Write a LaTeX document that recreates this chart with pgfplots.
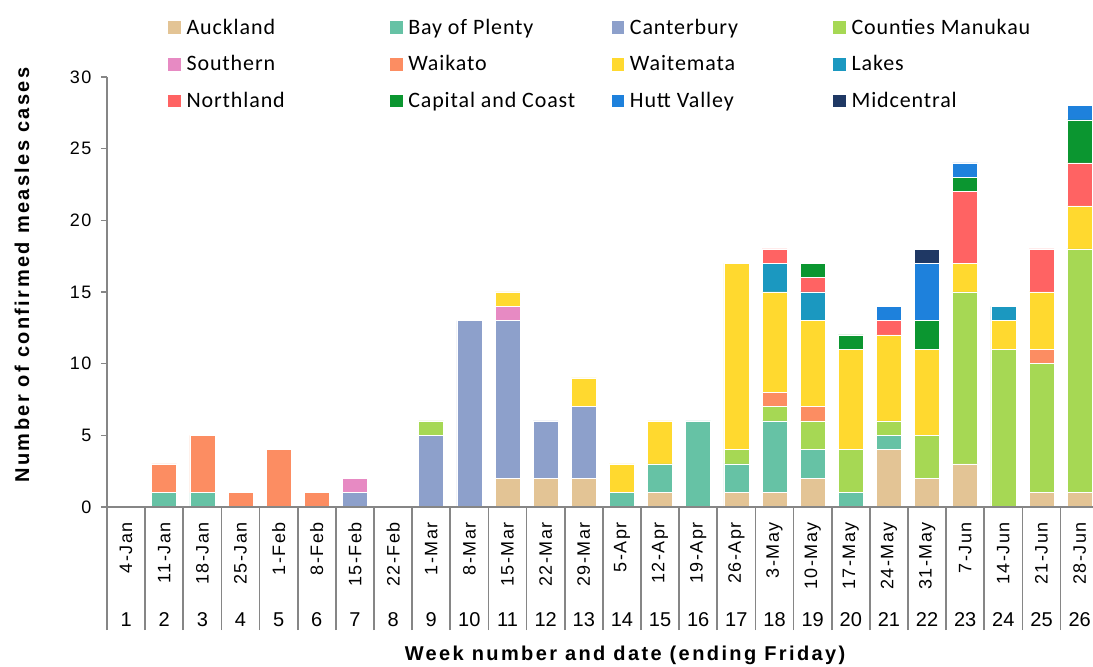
\documentclass[border=0pt]{standalone}
\usepackage{pgfplots}
\pgfplotsset{compat=1.18}
\usepackage{pgfplotstable}
\usepackage{fontspec}
\setmainfont{Liberation Sans}
\newfontfamily\legfont{Carlito}[LetterSpace=4]
\newfontfamily\tickfont{Liberation Sans}[LetterSpace=8]
\newfontfamily\labfont{Liberation Sans}[LetterSpace=12]

\definecolor{cAuk}{RGB}{227,196,149}
\definecolor{cBoP}{RGB}{102,194,165}
\definecolor{cCan}{RGB}{141,160,203}
\definecolor{cCM}{RGB}{166,216,84}
\definecolor{cSou}{RGB}{231,138,195}
\definecolor{cWai}{RGB}{252,141,98}
\definecolor{cWtm}{RGB}{255,217,47}
\definecolor{cLak}{RGB}{27,152,192}
\definecolor{cNth}{RGB}{255,99,99}
\definecolor{cCC}{RGB}{11,150,48}
\definecolor{cHV}{RGB}{30,129,220}
\definecolor{cMC}{RGB}{31,56,100}
\definecolor{axisgray}{RGB}{134,134,134}

\pgfplotstableread{
wk Auk BoP Cant CM Sou Wai Wtm Lak Nth CC HV MC
1  0 0 0  0 0 0 0  0 0 0 0 0
2  0 1 0  0 0 2 0  0 0 0 0 0
3  0 1 0  0 0 4 0  0 0 0 0 0
4  0 0 0  0 0 1 0  0 0 0 0 0
5  0 0 0  0 0 4 0  0 0 0 0 0
6  0 0 0  0 0 1 0  0 0 0 0 0
7  0 0 1  0 1 0 0  0 0 0 0 0
8  0 0 0  0 0 0 0  0 0 0 0 0
9  0 0 5  1 0 0 0  0 0 0 0 0
10 0 0 13 0 0 0 0  0 0 0 0 0
11 2 0 11 0 1 0 1  0 0 0 0 0
12 2 0 4  0 0 0 0  0 0 0 0 0
13 2 0 5  0 0 0 2  0 0 0 0 0
14 0 1 0  0 0 0 2  0 0 0 0 0
15 1 2 0  0 0 0 3  0 0 0 0 0
16 0 6 0  0 0 0 0  0 0 0 0 0
17 1 2 0  1 0 0 13 0 0 0 0 0
18 1 5 0  1 0 1 7  2 1 0 0 0
19 2 2 0  2 0 1 6  2 1 1 0 0
20 0 1 0  3 0 0 7  0 0 1 0 0
21 4 1 0  1 0 0 6  0 1 0 1 0
22 2 0 0  3 0 0 6  0 0 2 4 1
23 3 0 0  12 0 0 2 0 5 1 1 0
24 0 0 0  11 0 0 2 1 0 0 0 0
25 1 0 0  9 0 1 4  0 3 0 0 0
26 1 0 0  17 0 0 3 0 3 3 1 0
}\data

\pgfplotsset{
  base/.style={width=739.5pt, height=322.5pt, scale only axis,
    xmin=0.5, xmax=26.35, ymin=0, ymax=30},
}
\newcommand{\lgE}[1]{\makebox[150.5pt][l]{#1}}

\begin{document}
\begin{tikzpicture}
\useasboundingbox (-80.25pt,-120pt) rectangle (739.5pt,380.25pt);
% separators
\begin{axis}[base,
  axis line style={draw=none}, ytick=\empty,
  xtick={0.5,1.5,...,25.5}, xticklabels={},
  xtick pos=left, tick align=outside, major tick length=92.25pt,
  xtick style={draw=axisgray, line width=1.2pt}]
\end{axis}
% date labels
\begin{axis}[base,
  axis line style={draw=none}, ytick=\empty,
  xtick={1,...,26}, xtick pos=left, major tick length=0pt,
  xtick style={draw=none},
  xticklabels={4-Jan,11-Jan,18-Jan,25-Jan,1-Feb,8-Feb,15-Feb,22-Feb,1-Mar,8-Mar,15-Mar,22-Mar,29-Mar,5-Apr,12-Apr,19-Apr,26-Apr,3-May,10-May,17-May,24-May,31-May,7-Jun,14-Jun,21-Jun,28-Jun},
  xticklabel style={rotate=90, anchor=east, inner sep=0pt, font=\tickfont\fontsize{13.5pt}{16pt}\selectfont},
  xticklabel shift=11.25pt]
\end{axis}
% week numbers
\begin{axis}[base,
  axis line style={draw=none}, ytick=\empty,
  xtick={1,...,26}, xtick pos=left, major tick length=0pt,
  xtick style={draw=none},
  xticklabels={1,2,3,4,5,6,7,8,9,10,11,12,13,14,15,16,17,18,19,20,21,22,23,24,25,26},
  xticklabel style={anchor=base, inner sep=0pt, font=\fontsize{15pt}{18pt}\selectfont},
  xticklabel shift=89.5pt]
\end{axis}
% main
\begin{axis}[base,
  ybar stacked, bar width=18.75pt,
  axis on top,
  axis x line*=bottom, axis y line*=left,
  axis line style={draw=axisgray, line width=1.2pt},
  xtick=\empty,
  ytick={0,5,...,30},
  tick align=outside, major tick length=4.5pt,
  ytick style={draw=axisgray, line width=1.2pt},
  yticklabel style={inner sep=0pt, font=\tickfont\fontsize{13.5pt}{16pt}\selectfont},
  yticklabel shift=7pt,
  /pgf/number format/assume math mode=true,
  ylabel={Number of confirmed measles cases},
  xlabel={Week number and date (ending Friday)},
  ylabel style={at={(axis description cs:-0.0862,0.5395)}, anchor=center, font=\labfont\bfseries\fontsize{15pt}{18pt}\selectfont},
  xlabel style={at={(axis description cs:0.5254,-0.344)}, anchor=center, font=\labfont\bfseries\fontsize{15pt}{18pt}\selectfont},
  legend columns=4,
  legend style={draw=none, fill=none, at={(0.0619,1.1419)}, anchor=north west,
    font=\legfont\fontsize{16.5pt}{19pt}\selectfont,
    /tikz/every odd column/.append style={column sep=2.25pt},
    row sep=10.6pt, inner sep=0pt},
  legend image code/.code={\path[#1,draw=none] (0pt,-4.75pt) rectangle (9.5pt,4.75pt);},
  every axis plot/.append style={draw=white, line width=0.4pt},
]
\addplot[fill=cAuk] table[x=wk,y=Auk]{\data}; \addlegendentry{\lgE{Auckland}}
\addplot[fill=cBoP] table[x=wk,y=BoP]{\data}; \addlegendentry{\lgE{Bay of Plenty}}
\addplot[fill=cCan] table[x=wk,y=Cant]{\data}; \addlegendentry{\lgE{Canterbury}}
\addplot[fill=cCM] table[x=wk,y=CM]{\data}; \addlegendentry{\lgE{Counties Manukau}}
\addplot[fill=cSou] table[x=wk,y=Sou]{\data}; \addlegendentry{\lgE{Southern}}
\addplot[fill=cWai] table[x=wk,y=Wai]{\data}; \addlegendentry{\lgE{Waikato}}
\addplot[fill=cWtm] table[x=wk,y=Wtm]{\data}; \addlegendentry{\lgE{Waitemata}}
\addplot[fill=cLak] table[x=wk,y=Lak]{\data}; \addlegendentry{\lgE{Lakes}}
\addplot[fill=cNth] table[x=wk,y=Nth]{\data}; \addlegendentry{\lgE{Northland}}
\addplot[fill=cCC] table[x=wk,y=CC]{\data}; \addlegendentry{\lgE{Capital and Coast}}
\addplot[fill=cHV] table[x=wk,y=HV]{\data}; \addlegendentry{\lgE{Hutt Valley}}
\addplot[fill=cMC] table[x=wk,y=MC]{\data}; \addlegendentry{\lgE{Midcentral}}
\end{axis}
\end{tikzpicture}
\end{document}
